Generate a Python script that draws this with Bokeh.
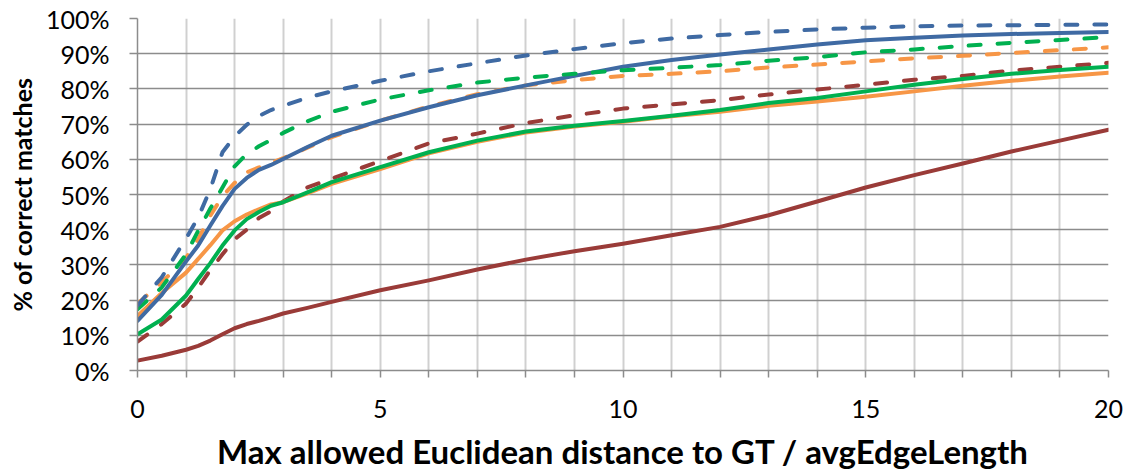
from bokeh.plotting import figure
from bokeh.models import FixedTicker, PrintfTickFormatter, Range1d
from bokeh.embed import file_html
from bokeh.resources import INLINE

x = [0, 0.5, 1, 1.25, 1.5, 1.75, 2, 2.25, 2.5, 2.75, 3, 3.5, 4, 5, 6, 7, 8, 9, 10,
     11, 12, 13, 14, 15, 16, 17, 18, 19, 20]

blue_solid = [14.1, 21.5, 31.0, 35.5, 41.2, 46.7, 51.6, 54.7, 57.0, 58.4, 60.1, 63.5, 66.7,
              71.0, 74.8, 78.2, 81.0, 83.7, 86.3, 88.2, 89.8, 91.2, 92.6, 93.8, 94.5, 95.2, 95.6, 95.9, 96.2]
blue_dashed = [18.5, 26.5, 37.5, 43.5, 51.5, 62.0, 66.5, 69.8, 72.3, 74.0, 75.2, 77.5, 79.3,
               82.3, 85.0, 87.3, 89.5, 91.3, 93.0, 94.3, 95.3, 96.2, 96.9, 97.4, 97.8, 98.0, 98.1, 98.2, 98.3]
green_solid = [10.3, 14.5, 21.3, 26.0, 30.5, 35.5, 39.8, 43.0, 45.0, 46.8, 47.8, 50.6, 53.5,
               57.8, 62.0, 65.3, 67.9, 69.5, 70.9, 72.4, 74.0, 76.0, 77.4, 79.3, 81.2, 82.8, 84.3, 85.4, 86.3]
green_dashed = [17.4, 23.6, 33.0, 39.7, 46.0, 52.0, 58.0, 61.5, 63.7, 65.5, 67.5, 70.8, 73.5,
                77.0, 79.6, 81.8, 83.2, 84.3, 85.3, 86.0, 86.8, 88.0, 89.0, 90.4, 91.2, 92.2, 93.1, 93.9, 94.7]
orange_solid = [15.5, 22.0, 27.8, 31.7, 35.6, 39.8, 42.4, 44.3, 45.8, 47.2, 47.8, 50.3, 53.0,
                57.2, 61.7, 65.0, 67.6, 69.3, 70.7, 72.2, 73.5, 75.2, 76.4, 77.8, 79.3, 80.9, 82.3, 83.5, 84.6]
orange_dashed = [19.0, 25.0, 32.0, 37.3, 44.0, 49.5, 53.3, 56.3, 57.7, 59.0, 60.3, 63.3, 66.3,
                 71.0, 75.0, 78.5, 81.0, 82.5, 83.7, 84.3, 85.0, 86.1, 86.9, 87.8, 88.7, 89.4, 90.2, 91.0, 91.8]
red_solid = [2.8, 4.2, 5.9, 7.0, 8.5, 10.3, 12.0, 13.2, 14.1, 15.1, 16.2, 17.8, 19.5,
             22.8, 25.6, 28.7, 31.5, 33.9, 36.0, 38.4, 40.8, 44.1, 48.0, 52.0, 55.5, 58.8, 62.2, 65.3, 68.4]
red_dashed = [8.2, 13.2, 19.0, 23.6, 28.5, 33.0, 37.3, 40.0, 43.3, 45.2, 48.0, 52.0, 54.5,
              59.5, 64.5, 67.3, 70.3, 72.5, 74.4, 75.6, 76.8, 78.4, 79.8, 81.2, 82.6, 83.7, 85.2, 86.3, 87.4]

x_ticks = list(range(0, 21))
x_labels = {t: (str(t) if t % 5 == 0 else "") for t in x_ticks}
y_ticks = list(range(0, 101, 10))

BLUE = "#3F6AA3"
GREEN = "#00B050"
ORANGE = "#F79646"
RED = "#9A3B38"

FONT = "Lato"

p = figure(width=1126, height=473, output_backend="svg", toolbar_location=None,
           x_range=Range1d(0, 20), y_range=Range1d(0, 100),
           min_border_left=137, min_border_right=18, min_border_top=18, min_border_bottom=102)
p.outline_line_color = None
p.background_fill_color = "white"

p.xaxis.ticker = FixedTicker(ticks=x_ticks)
p.xaxis.major_label_overrides = x_labels
p.yaxis.ticker = FixedTicker(ticks=y_ticks)
p.yaxis.formatter = PrintfTickFormatter(format="%d%%")

p.xgrid.grid_line_color = "#d0d0d0"
p.xgrid.grid_line_width = 2
p.ygrid.grid_line_color = "#8c8c8c"
p.ygrid.grid_line_width = 1.5

for ax in (p.xaxis, p.yaxis):
    ax.axis_line_color = "#8c8c8c"
    ax.axis_line_width = 1.5
    ax.major_tick_line_color = "#8c8c8c"
    ax.major_tick_line_width = 1.5
    ax.minor_tick_line_color = None
    ax.major_tick_in = 0
    ax.major_label_text_font = FONT
    ax.major_label_text_font_size = "25px"
    ax.major_label_text_color = "black"
    ax.axis_label_text_font = FONT
    ax.axis_label_text_font_style = "bold"
    ax.axis_label_text_color = "black"

p.xaxis.major_tick_out = 7
p.yaxis.major_tick_out = 8
p.xaxis.major_label_standoff = 22
p.yaxis.major_label_standoff = 20
p.xaxis.axis_label = "Max allowed Euclidean distance to GT / avgEdgeLength"
p.xaxis.axis_label_text_font_size = "33px"
p.xaxis.axis_label_standoff = 10
p.yaxis.axis_label = "% of correct matches"
p.yaxis.axis_label_text_font_size = "25px"
p.yaxis.axis_label_standoff = 6

LW = 4
DASH = "12 17"

series = [
    (red_solid, RED, "solid"),
    (red_dashed, RED, DASH),
    (orange_solid, ORANGE, "solid"),
    (green_solid, GREEN, "solid"),
    (orange_dashed, ORANGE, DASH),
    (blue_solid, BLUE, "solid"),
    (green_dashed, GREEN, DASH),
    (blue_dashed, BLUE, DASH),
]
for ys, col, dash in series:
    p.line(x, ys, line_color=col, line_width=LW, line_dash=dash, line_cap="round", line_join="round")

open("out.html", "w").write(file_html(p, INLINE))
